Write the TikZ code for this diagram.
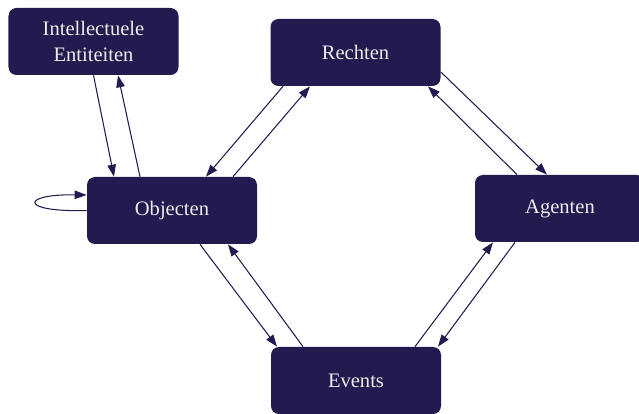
\documentclass[tikz,border=0pt]{standalone}
\usepackage{fontspec}
\setmainfont{Liberation Serif}
\usetikzlibrary{arrows.meta}
\definecolor{boxnavy}{HTML}{231A4F}
\begin{document}
\begin{tikzpicture}[blk/.style={fill=boxnavy,rounded corners=0.16cm,minimum width=3.4cm,minimum height=1.34cm,inner sep=0pt,text=white!93!black,align=center,font=\fontsize{11.7}{15.3}\selectfont},
                    lnk/.style={-{Triangle[length=2.4mm,width=1.7mm]},draw=boxnavy,line width=0.6pt}]
              \useasboundingbox (0,0) rectangle (12.78,8.28);
              \node[blk] (ie) at (1.87,7.45) {Intellectuele\\Entiteiten};
              \node[blk] (rech) at (7.11,7.23) {Rechten};
              \node[blk] (obj) at (3.44,4.07) {Objecten};
              \node[blk] (agt) at (11.2,4.11) {Agenten};
              \node[blk] (ev) at (7.12,0.67) {Events};

              \draw[lnk] (ie.south) -- ([xshift=-1.16cm]obj.north);
              \draw[lnk] ([xshift=-0.64cm]obj.north) -- ([xshift=0.49cm]ie.south);
              \draw[lnk] (obj.west) .. controls +(-1.34,-0.04) and +(-1.34,0.02) .. ([yshift=0.31cm]obj.west);
              \draw[lnk] ([xshift=-1.45cm]rech.south) -- ([xshift=0.68cm]obj.north);
              \draw[lnk] ([xshift=1.22cm]obj.north) -- ([xshift=-0.91cm]rech.south);
              \draw[lnk] ([yshift=-0.39cm]rech.east) -- ([xshift=-0.26cm]agt.north);
              \draw[lnk] ([xshift=-0.86cm]agt.north) -- ([xshift=1.45cm]rech.south);
              \draw[lnk] ([xshift=-0.9cm]agt.south) -- ([xshift=1.64cm]ev.north);
              \draw[lnk] ([xshift=1.18cm]ev.north) -- ([xshift=-1.34cm]agt.south);
              \draw[lnk] ([xshift=0.56cm]obj.south) -- ([xshift=-1.58cm]ev.north);
              \draw[lnk] ([xshift=-1.06cm]ev.north) -- ([xshift=1.12cm]obj.south);
            \end{tikzpicture}
\end{document}
